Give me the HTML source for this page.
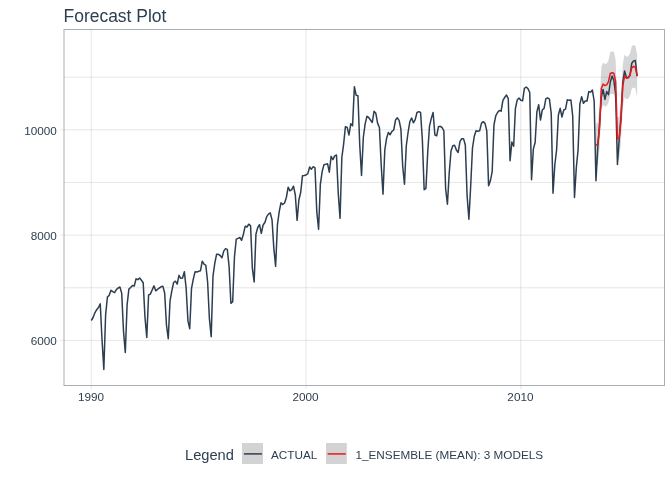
<!DOCTYPE html>
<html><head><meta charset="utf-8"><title>Forecast Plot</title>
<style>
html,body{margin:0;padding:0;background:#fff;}
body{width:672px;height:480px;overflow:hidden;font-family:"Liberation Sans",sans-serif;}
svg{display:block;will-change:transform;}
text{font-family:"Liberation Sans",sans-serif;fill:#2c3e50;}
</style></head><body>
<svg width="672" height="480" viewBox="0 0 672 480">
<rect x="0" y="0" width="672" height="480" fill="#ffffff"/>
<g stroke="#cccccc" stroke-width="0.5" fill="none">
<line x1="91.3" y1="29.5" x2="91.3" y2="385.5"/><line x1="306.0" y1="29.5" x2="306.0" y2="385.5"/><line x1="520.8" y1="29.5" x2="520.8" y2="385.5"/>
<line x1="64.0" y1="77.15" x2="664.5" y2="77.15"/><line x1="64.0" y1="129.8" x2="664.5" y2="129.8"/><line x1="64.0" y1="182.45" x2="664.5" y2="182.45"/><line x1="64.0" y1="235.1" x2="664.5" y2="235.1"/><line x1="64.0" y1="287.75" x2="664.5" y2="287.75"/><line x1="64.0" y1="340.4" x2="664.5" y2="340.4"/>
</g>
<path d="M595.96,123.90 L597.75,122.60 L599.54,106.50 L601.33,67.00 L603.12,62.60 L604.91,64.10 L606.70,63.40 L608.49,60.20 L610.28,52.00 L612.07,51.20 L613.86,51.80 L615.65,60.00 L617.44,116.90 L619.23,116.90 L621.02,98.50 L622.81,63.90 L624.59,54.60 L626.38,56.70 L628.17,56.20 L629.96,53.50 L631.75,46.30 L633.54,44.90 L635.33,45.75 L637.12,54.60 L637.12,97.10 L635.33,88.25 L633.54,87.40 L631.75,88.80 L629.96,96.00 L628.17,98.70 L626.38,99.20 L624.59,97.10 L622.81,106.40 L621.02,141.00 L619.23,159.40 L617.44,159.40 L615.65,102.50 L613.86,94.30 L612.07,93.70 L610.28,94.50 L608.49,102.70 L606.70,105.90 L604.91,106.60 L603.12,105.10 L601.33,109.50 L599.54,149.00 L597.75,165.10 L595.96,166.40Z" fill="#333333" fill-opacity="0.2" stroke="none"/>
<path d="M91.30,320.50 L93.09,317.50 L94.88,312.83 L96.67,309.67 L98.46,307.50 L100.25,303.83 L102.04,340.00 L103.83,369.50 L105.62,314.83 L107.41,297.00 L109.20,295.33 L110.99,290.33 L112.77,291.67 L114.56,292.67 L116.35,289.67 L118.14,288.00 L119.93,287.00 L121.72,293.33 L123.51,331.33 L125.30,352.50 L127.09,305.00 L128.88,289.17 L130.67,287.50 L132.46,285.50 L134.25,286.00 L136.04,278.83 L137.83,279.67 L139.62,278.00 L141.41,280.33 L143.20,282.67 L144.99,317.50 L146.78,337.50 L148.57,295.00 L150.36,294.17 L152.15,290.00 L153.94,285.83 L155.72,290.83 L157.51,289.33 L159.30,288.00 L161.09,286.83 L162.88,286.33 L164.67,293.00 L166.46,325.00 L168.25,338.67 L170.04,300.83 L171.83,290.83 L173.62,282.50 L175.41,281.17 L177.20,284.17 L178.99,275.33 L180.78,278.33 L182.57,278.00 L184.36,271.67 L186.15,288.33 L187.94,320.83 L189.73,328.67 L191.52,288.33 L193.31,279.17 L195.10,271.67 L196.89,272.00 L198.67,271.33 L200.46,270.83 L202.25,261.17 L204.04,264.17 L205.83,265.33 L207.62,282.00 L209.41,318.67 L211.20,336.67 L212.99,276.17 L214.78,263.33 L216.57,254.33 L218.36,254.33 L220.15,255.50 L221.94,257.83 L223.73,251.17 L225.52,248.67 L227.31,249.33 L229.10,266.67 L230.89,303.33 L232.68,301.67 L234.47,256.67 L236.26,239.17 L238.05,238.33 L239.84,237.50 L241.62,240.33 L243.41,234.17 L245.20,226.17 L246.99,227.00 L248.78,224.17 L250.57,225.83 L252.36,268.33 L254.15,282.00 L255.94,234.17 L257.73,227.50 L259.52,224.67 L261.31,233.33 L263.10,225.00 L264.89,222.50 L266.68,216.67 L268.47,214.17 L270.26,212.83 L272.05,220.00 L273.84,248.33 L275.63,266.33 L277.42,225.00 L279.21,211.67 L281.00,202.83 L282.79,204.50 L284.57,203.00 L286.36,197.50 L288.15,187.17 L289.94,190.83 L291.73,189.67 L293.52,186.17 L295.31,195.00 L297.10,220.33 L298.89,200.00 L300.68,192.50 L302.47,175.83 L304.26,175.50 L306.05,175.00 L307.84,173.67 L309.63,167.00 L311.42,169.17 L313.21,166.67 L315.00,167.83 L316.79,211.67 L318.58,229.17 L320.37,184.17 L322.16,171.67 L323.95,164.67 L325.73,164.33 L327.52,163.67 L329.31,172.17 L331.10,156.33 L332.89,159.67 L334.68,155.83 L336.47,155.00 L338.26,193.33 L340.05,218.33 L341.84,157.50 L343.63,144.17 L345.42,126.67 L347.21,127.50 L349.00,135.00 L350.79,123.67 L352.58,125.83 L354.37,86.67 L356.16,95.33 L357.95,95.83 L359.74,145.00 L361.53,175.50 L363.32,137.50 L365.11,124.17 L366.90,116.33 L368.68,117.50 L370.47,120.00 L372.26,122.50 L374.05,111.33 L375.84,113.33 L377.63,123.33 L379.42,127.50 L381.21,165.00 L383.00,194.20 L384.79,150.00 L386.58,138.33 L388.37,132.50 L390.16,134.67 L391.95,131.33 L393.74,130.00 L395.53,120.00 L397.32,117.83 L399.11,120.33 L400.90,129.17 L402.69,166.00 L404.48,184.20 L406.27,146.00 L408.06,132.50 L409.85,121.67 L411.63,118.00 L413.42,122.83 L415.21,119.67 L417.00,112.50 L418.79,111.67 L420.58,112.50 L422.37,140.00 L424.16,189.70 L425.95,188.30 L427.74,152.00 L429.53,125.83 L431.32,118.33 L433.11,112.50 L434.90,135.00 L436.69,135.83 L438.48,126.67 L440.27,126.33 L442.06,127.50 L443.85,130.83 L445.64,189.00 L447.43,204.20 L449.22,173.00 L451.01,151.00 L452.80,145.83 L454.58,145.33 L456.37,150.00 L458.16,152.50 L459.95,141.67 L461.74,138.67 L463.53,138.67 L465.32,145.00 L467.11,196.00 L468.90,219.20 L470.69,186.00 L472.48,148.00 L474.27,136.33 L476.06,130.83 L477.85,131.17 L479.64,130.83 L481.43,123.33 L483.22,121.67 L485.01,123.33 L486.80,130.83 L488.59,185.80 L490.38,180.80 L492.17,171.70 L493.96,125.00 L495.75,115.83 L497.53,112.50 L499.32,110.50 L501.11,111.17 L502.90,100.33 L504.69,97.50 L506.48,95.00 L508.27,98.67 L510.06,160.80 L511.85,142.00 L513.64,146.33 L515.43,108.33 L517.22,100.00 L519.01,98.00 L520.80,100.33 L522.59,100.83 L524.38,88.33 L526.17,87.00 L527.96,88.67 L529.75,92.50 L531.54,179.70 L533.33,149.17 L535.12,142.50 L536.91,111.67 L538.69,104.67 L540.48,120.00 L542.27,110.00 L544.06,108.33 L545.85,98.67 L547.64,97.83 L549.43,99.17 L551.22,113.33 L553.01,193.30 L554.80,165.00 L556.59,150.00 L558.38,115.00 L560.17,108.33 L561.96,117.00 L563.75,110.00 L565.54,109.17 L567.33,99.67 L569.12,100.33 L570.91,100.00 L572.70,115.83 L574.49,197.50 L576.28,168.00 L578.07,150.00 L579.86,104.17 L581.64,96.67 L583.43,103.33 L585.22,101.00 L587.01,101.00 L588.80,91.62 L590.59,92.15 L592.38,90.06 L594.17,101.00 L595.96,180.80 L597.75,148.00 L599.54,124.00 L601.33,96.80 L603.12,89.50 L604.91,99.40 L606.70,91.60 L608.49,94.75 L610.28,82.25 L612.07,76.00 L613.86,80.50 L615.65,94.75 L617.44,164.40 L619.23,139.00 L621.02,116.00 L622.81,81.80 L624.59,70.90 L626.38,77.10 L628.17,77.70 L629.96,75.60 L631.75,63.30 L633.54,61.00 L635.33,60.50 L637.12,76.10" fill="none" stroke="#2c3e50" stroke-width="1.5" stroke-linejoin="round" stroke-linecap="butt"/>
<path d="M595.96,145.40 L597.75,144.10 L599.54,128.00 L601.33,88.50 L603.12,84.10 L604.91,85.60 L606.70,84.90 L608.49,81.70 L610.28,73.50 L612.07,72.70 L613.86,73.30 L615.65,81.50 L617.44,138.40 L619.23,138.40 L621.02,120.00 L622.81,85.40 L624.59,76.10 L626.38,78.20 L628.17,77.70 L629.96,75.00 L631.75,67.80 L633.54,66.40 L635.33,67.25 L637.12,76.10" fill="none" stroke="#e31a1c" stroke-width="1.5" stroke-linejoin="round" stroke-linecap="butt"/>
<rect x="64.0" y="29.5" width="600.5" height="356.0" fill="none" stroke="#2c3e50" stroke-opacity="0.42" stroke-width="1"/>
<g stroke="#cccccc" stroke-width="0.5">
<line x1="91.3" y1="385.5" x2="91.3" y2="389.2"/><line x1="306.0" y1="385.5" x2="306.0" y2="389.2"/><line x1="520.8" y1="385.5" x2="520.8" y2="389.2"/>
<line x1="60.1" y1="129.8" x2="64.0" y2="129.8"/><line x1="60.1" y1="235.1" x2="64.0" y2="235.1"/><line x1="60.1" y1="340.4" x2="64.0" y2="340.4"/>
</g>
<text x="63.5" y="22.3" font-size="17.48">Forecast Plot</text>
<g font-size="11.73" text-anchor="end">
<text x="56.8" y="134.5">10000</text>
<text x="56.8" y="239.8">8000</text>
<text x="56.8" y="345.1">6000</text>
</g>
<g font-size="11.73" text-anchor="middle">
<text x="91.0" y="400.8">1990</text>
<text x="305.6" y="400.8">2000</text>
<text x="520.4" y="400.8">2010</text>
</g>
<text x="185" y="460" font-size="14.67">Legend</text>
<rect x="242" y="443" width="21" height="21" fill="#d3d3d3"/>
<line x1="243.9" y1="453.9" x2="261.9" y2="453.9" stroke="#2c3e50" stroke-width="1.5"/>
<text x="271" y="458.5" font-size="11.73">ACTUAL</text>
<rect x="326" y="443" width="20.8" height="21" fill="#d3d3d3"/>
<line x1="327.6" y1="453.9" x2="345.8" y2="453.9" stroke="#e31a1c" stroke-width="1.5"/>
<text x="355.5" y="458.5" font-size="11.73">1_ENSEMBLE (MEAN): 3 MODELS</text>
</svg>
</body></html>
